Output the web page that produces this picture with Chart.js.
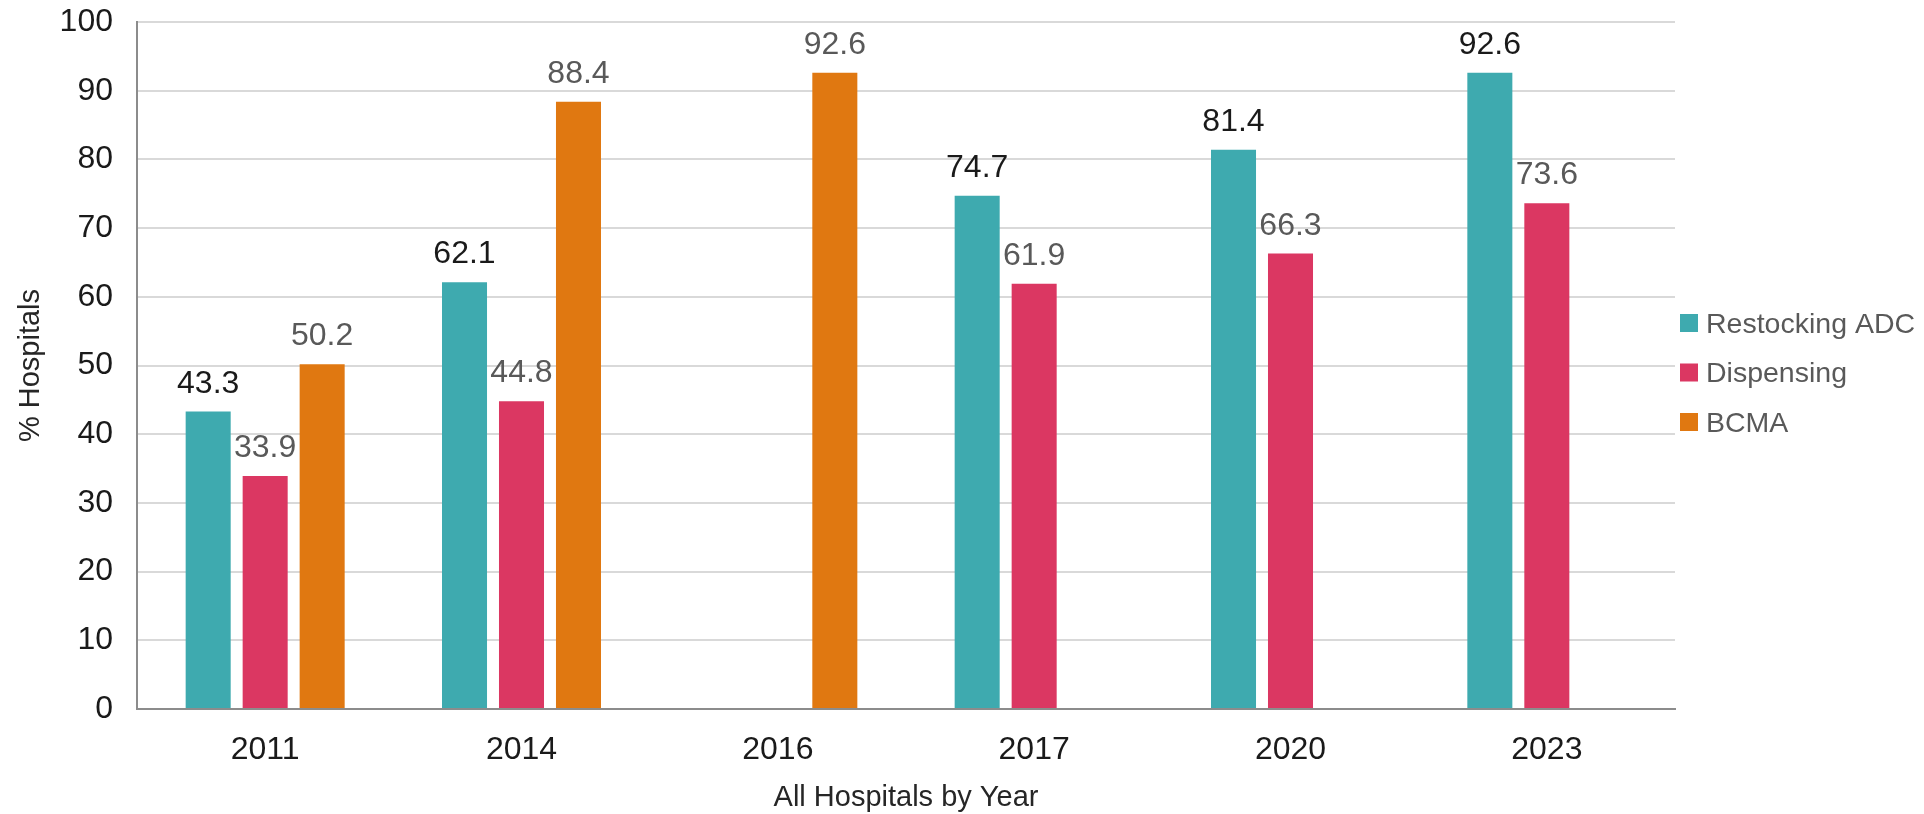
<!DOCTYPE html>
<html>
<head>
<meta charset="utf-8">
<title>Hospitals by Year</title>
<script src="https://cdn.jsdelivr.net/npm/chart.js@4/dist/chart.umd.min.js"></script>
<style>
    body { margin: 0; background: #fff; }
    .grafica { position: relative; width: 1924px; height: 814px; }
</style>
</head>
<body>
<div class="grafica">
    <canvas id="grafica1"></canvas>
</div>
<script>
// DATA
const years = ['2011', '2014', '2016', '2017', '2020', '2023'];
const restockingAdc = [43.3, 62.1, null, 74.7, 81.4, 92.6];
const dispensing = [33.9, 44.8, null, 61.9, 66.3, 73.6];
const bcma = [50.2, 88.4, 92.6, null, null, null];
const yTicks = [0, 10, 20, 30, 40, 50, 60, 70, 80, 90, 100];

const fontFamily = '"Liberation Sans", Arial, sans-serif';

// colours for each series and its value label
const colores = ['#3eaaaf', '#db3762', '#e07811'];
const coloresEtiqueta = ['#1a1a1a', '#595959', '#595959'];

// draws the value above every bar
const valueLabels = {
    id: 'valueLabels',
    afterDatasetsDraw(chart) {
        const ctx = chart.ctx;
        ctx.save();
        ctx.font = '32px ' + fontFamily;
        ctx.textAlign = 'center';
        ctx.textBaseline = 'alphabetic';
        chart.data.datasets.forEach((ds, i) => {
            const meta = chart.getDatasetMeta(i);
            meta.data.forEach((bar, j) => {
                const v = ds.data[j];
                if (v === null || v === undefined) return;
                ctx.fillStyle = coloresEtiqueta[i];
                ctx.fillText(v.toFixed(1), bar.x, bar.y - 19);
            });
        });
        ctx.restore();
    }
};

// legend to the right of the plot, square + name per series
const sideLegend = {
    id: 'sideLegend',
    afterDraw(chart) {
        const ctx = chart.ctx;
        const area = chart.chartArea;
        const rowGap = 49.5;
        const midY = (area.top + area.bottom) / 2 + 8;
        const n = chart.data.datasets.length;
        ctx.save();
        ctx.font = '28.5px ' + fontFamily;
        ctx.textAlign = 'left';
        ctx.textBaseline = 'middle';
        chart.data.datasets.forEach((ds, i) => {
            const y = midY + (i - (n - 1) / 2) * rowGap;
            ctx.fillStyle = ds.backgroundColor;
            ctx.fillRect(area.right + 5, y - 10, 18, 18);
            ctx.fillStyle = '#595959';
            ctx.fillText(ds.label, area.right + 31, y + 1);
        });
        ctx.restore();
    }
};

const data1 = {
    labels: years,
    datasets: [
        { label: 'Restocking ADC', data: restockingAdc, backgroundColor: colores[0] },
        { label: 'Dispensing', data: dispensing, backgroundColor: colores[1] },
        { label: 'BCMA', data: bcma, backgroundColor: colores[2] }
    ]
};

const options = {
    responsive: true,
    maintainAspectRatio: false,
    animation: false,
    layout: { padding: { top: 22, right: 249, left: 0, bottom: 0 } },
    datasets: {
        bar: { categoryPercentage: 0.667, barPercentage: 0.79 }
    },
    plugins: {
        legend: { display: false },
        tooltip: { enabled: false }
    },
    scales: {
        x: {
            afterFit: (scale) => {
                scale.height = 105;
            },
            grid: { display: false },
            border: { color: '#8c8c8c', width: 2 },
            ticks: {
                color: '#1a1a1a',
                padding: 14,
                font: { family: fontFamily, size: 32 }
            },
            title: {
                display: true,
                text: 'All Hospitals by Year',
                color: '#262626',
                padding: { top: 0, bottom: 2 },
                font: { family: fontFamily, size: 29, lineHeight: 1.0 }
            }
        },
        y: {
            min: 0,
            max: 100,
            afterBuildTicks: (axis) => {
                axis.ticks = yTicks.map(v => ({ value: v }));
            },
            afterFit: (scale) => {
                scale.width = 137;
                scale.paddingTop = 0;
            },
            grid: { color: '#d9d9d9', lineWidth: 2, drawTicks: false },
            border: { color: '#8c8c8c', width: 2 },
            ticks: {
                color: '#1a1a1a',
                padding: 24,
                font: { family: fontFamily, size: 32 }
            },
            title: {
                display: true,
                text: '% Hospitals',
                color: '#262626',
                padding: { top: 16, bottom: 0 },
                font: { family: fontFamily, size: 29, lineHeight: 1.0 }
            }
        }
    }
};

let grafica1 = new Chart(document.getElementById('grafica1'), {
    type: 'bar',
    data: data1,
    options: options,
    plugins: [valueLabels, sideLegend]
});
</script>
</body>
</html>
